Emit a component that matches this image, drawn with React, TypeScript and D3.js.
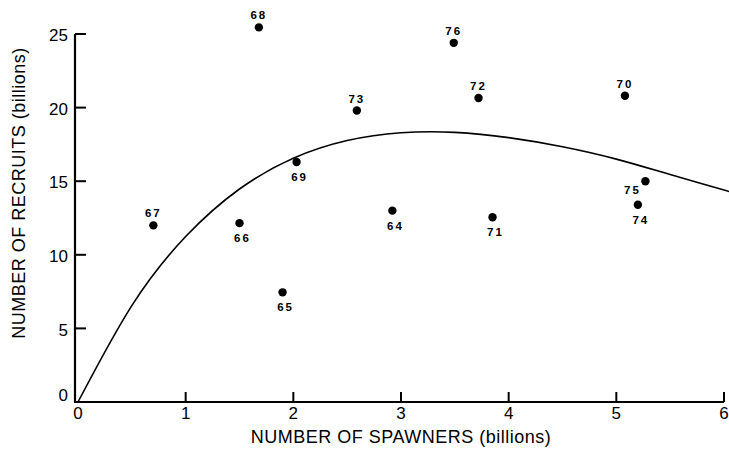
import * as React from 'react';
import * as d3 from 'd3';

// spawner/recruit observations, labelled by year
const years = ['64', '65', '66', '67', '68', '69', '70', '71', '72', '73', '74', '75', '76'];
const spawners = [2.92, 1.9, 1.5, 0.7, 1.68, 2.03, 5.08, 3.85, 3.72, 2.59, 5.2, 5.27, 3.49];
const recruits = [13.0, 7.45, 12.15, 12.0, 25.45, 16.3, 20.8, 12.55, 20.65, 19.8, 13.4, 15.0, 24.4];
// label placement: a = above, b = below, l = left
const labelPos = ['b', 'b', 'b', 'a', 'a', 'b', 'a', 'b', 'a', 'a', 'b', 'l', 'a'];

// fitted stock-recruitment curve (runs past the right edge)
const curveS = [0, 0.5, 1, 1.5, 2, 2.5, 3, 3.5, 4, 4.5, 5, 5.5, 6, 6.5];
const curveR = [0, 6.55, 11.24, 14.47, 16.56, 17.76, 18.29, 18.32, 17.96, 17.34, 16.5, 15.45, 14.4, 13.3];

const xTicks = [0, 1, 2, 3, 4, 5, 6];
const yTicks = [0, 5, 10, 15, 20, 25];

const W = 729;
const H = 456;

const App = () => {
	const x = d3.scaleLinear().domain([0, 6]).range([78, 724]);
	const y = d3.scaleLinear().domain([0, 25]).range([402, 34]);

	const line = d3.line<number>()
		.x((d, i) => x(curveS[i]))
		.y(d => y(d))
		.curve(d3.curveNatural);

	const font = '"Liberation Sans", Arial, Helvetica, sans-serif';

	return (
		<div style={{position: 'absolute', left: 0, top: 0}}>
			<svg width={W} height={H} style={{display: 'block', background: '#fff'}} fontFamily={font}>
				{/* axes */}
				<line x1={75} x2={75} y1={y(25)} y2={y(0) + 1} stroke="#000" strokeWidth={2.2}/>
				<line x1={74} x2={x(6)} y1={y(0)} y2={y(0)} stroke="#000" strokeWidth={2.2}/>
				{yTicks.map(t => (
					<g key={'y' + t}>
						<line x1={75} x2={86} y1={y(t)} y2={y(t)} stroke="#000" strokeWidth={2}/>
						<text x={68} y={y(t)} dy={t === 0 ? '-0.05em' : '0.42em'} textAnchor="end" fontSize={17}>{t}</text>
					</g>
				))}
				{xTicks.map(t => (
					<g key={'x' + t}>
						{t > 0 && <line x1={x(t)} x2={x(t)} y1={y(0)} y2={y(0) - 10} stroke="#000" strokeWidth={2}/>}
						<text x={x(t)} y={418.5} textAnchor="middle" fontSize={17}>{t}</text>
					</g>
				))}

				{/* axis titles */}
				<text x={401} y={443} textAnchor="middle" fontSize={18} letterSpacing={0.5}>NUMBER OF SPAWNERS (billions)</text>
				<text transform={`translate(25,193) rotate(-90)`} textAnchor="middle" fontSize={18} letterSpacing={0.5}>NUMBER OF RECRUITS (billions)</text>

				{/* curve */}
				<path d={line(curveR) || ''} fill="none" stroke="#000" strokeWidth={1.6}/>

				{/* points */}
				{years.map((yr, i) => {
					const cx = x(spawners[i]);
					const cy = y(recruits[i]);
					const p = labelPos[i];
					const lx = p === 'l' ? cx - 13 : cx + (p === 'b' ? 3 : 0);
					const ly = p === 'a' ? cy - 8 : p === 'b' ? cy + 19 : cy + 13;
					return (
						<g key={yr}>
							<circle cx={cx} cy={cy} r={4.2} fill="#000"/>
							<text x={lx} y={ly} textAnchor="middle" fontSize={11.5} fontWeight="bold" letterSpacing={2}>{yr}</text>
						</g>
					);
				})}
			</svg>
		</div>
	);
};

export default App;
